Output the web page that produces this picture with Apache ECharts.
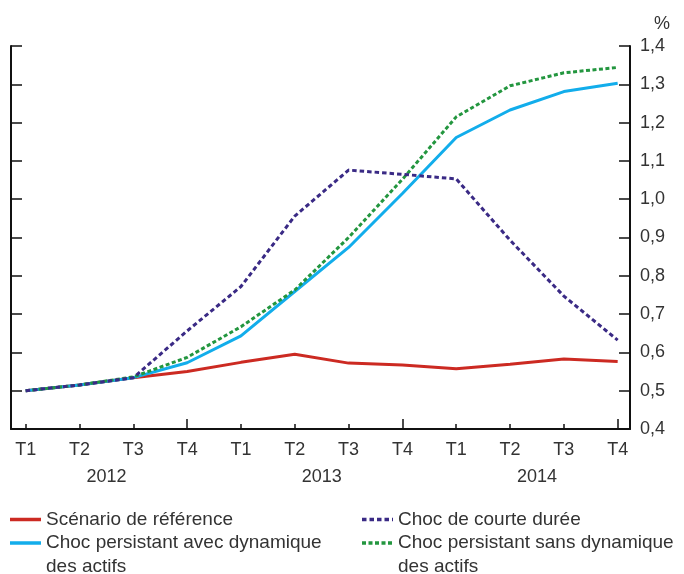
<!DOCTYPE html>
<html>
<head>
<meta charset="utf-8">
<script src="https://cdn.jsdelivr.net/npm/echarts@6/dist/echarts.min.js"></script>
<style>
  html, body { margin: 0; padding: 0; background: #fff; }
  #chart { width: 684px; height: 574px; }
</style>
</head>
<body>
<div id="chart"></div>
<script>
// Quarterly labels and years
const quarters = ['T1', 'T2', 'T3', 'T4', 'T1', 'T2', 'T3', 'T4', 'T1', 'T2', 'T3', 'T4'];
const years = ['2012', '2013', '2014'];
const yearPositions = [1.5, 5.5, 9.5];
const yearEndTicks = [3, 7, 11];

// Series values (%)
const reference = [0.500, 0.515, 0.534, 0.550, 0.574, 0.595, 0.572, 0.567, 0.557, 0.569, 0.583, 0.576];
const shortShock = [0.500, 0.515, 0.534, 0.656, 0.772, 0.956, 1.076, 1.065, 1.053, 0.893, 0.747, 0.632];
const persistentWith = [0.500, 0.515, 0.534, 0.573, 0.643, 0.759, 0.874, 1.015, 1.161, 1.233, 1.281, 1.303];
const persistentWithout = [0.500, 0.515, 0.536, 0.587, 0.667, 0.763, 0.900, 1.052, 1.215, 1.296, 1.330, 1.344];

const FONT = 'Liberation Sans, Arial, sans-serif';
const TEXT = '#333';
const AXIS_FONT = 18;
const LEGEND_FONT = 19;

// Series definitions: name, data, colour, dash pattern, legend slot (column, row)
const seriesDefs = [
  { name: 'Scénario de référence', data: reference, color: '#cc2a22', dash: 'solid', col: 0, row: 0 },
  { name: 'Choc persistant avec dynamique\ndes actifs', data: persistentWith, color: '#12adeb', dash: 'solid', col: 0, row: 1 },
  { name: 'Choc persistant sans dynamique\ndes actifs', data: persistentWithout, color: '#23963f', dash: [4, 2.5], col: 1, row: 1 },
  { name: 'Choc de courte durée', data: shortShock, color: '#3a2a85', dash: [4.5, 3], col: 1, row: 0 }
];

const idx = quarters.map((_, i) => i);
const pairs = arr => arr.map((v, i) => [i, v]);
const xMin = -0.273, xMax = 11.229;

const chart = echarts.init(document.getElementById('chart'), null, { renderer: 'canvas' });

const axisLine = { show: true, onZero: false, lineStyle: { color: '#111', width: 2 } };
const tickStyle = { color: '#111', width: 1.5 };

// Legend: two columns of line keys with text
const legendCols = [10, 362];
const legendRows = [519.5, 543];
const legendGraphics = [];
seriesDefs.forEach(s => {
  const x = legendCols[s.col], y = legendRows[s.row];
  legendGraphics.push({
    type: 'line', silent: true,
    shape: { x1: x, y1: y, x2: x + 31, y2: y },
    style: { stroke: s.color, lineWidth: 3.5, lineDash: s.dash === 'solid' ? null : s.dash }
  });
  legendGraphics.push({
    type: 'text', silent: true, x: x + 36, y: y - 12,
    style: { text: s.name, fontFamily: FONT, fontSize: LEGEND_FONT, fill: TEXT, lineHeight: 24, verticalAlign: 'top' }
  });
});

chart.setOption({
  animation: false,
  title: {
    text: '%', left: 649, top: 10,
    textStyle: { fontFamily: FONT, fontSize: AXIS_FONT, fontWeight: 'normal', color: TEXT }
  },
  grid: { left: 11, right: 54, top: 46, bottom: 145, containLabel: false },
  xAxis: [
    {
      type: 'value', min: xMin, max: xMax, position: 'bottom',
      axisLine: axisLine,
      splitLine: { show: false },
      axisTick: { show: true, inside: true, length: 5, customValues: idx, lineStyle: tickStyle },
      axisLabel: {
        customValues: idx, margin: 12,
        formatter: v => quarters[Math.round(v)],
        fontFamily: FONT, fontSize: AXIS_FONT, color: TEXT
      }
    },
    {
      type: 'value', min: xMin, max: xMax, position: 'bottom',
      axisLine: { show: false, onZero: false },
      splitLine: { show: false },
      axisTick: { show: true, inside: true, length: 10, customValues: yearEndTicks, lineStyle: tickStyle },
      axisLabel: {
        customValues: yearPositions, margin: 39,
        formatter: v => years[yearPositions.indexOf(v)],
        fontFamily: FONT, fontSize: AXIS_FONT, color: TEXT
      }
    }
  ],
  yAxis: [
    {
      type: 'value', min: 0.4, max: 1.4, interval: 0.1, position: 'right',
      axisLine: axisLine,
      splitLine: { show: false },
      axisTick: { show: true, inside: true, length: 11, lineStyle: tickStyle },
      axisLabel: {
        margin: 10,
        formatter: v => v.toFixed(1).replace('.', ','),
        fontFamily: FONT, fontSize: AXIS_FONT, color: TEXT
      }
    },
    {
      type: 'value', min: 0.4, max: 1.4, interval: 0.1, position: 'left',
      axisLine: axisLine,
      splitLine: { show: false },
      axisTick: { show: true, inside: true, length: 11, lineStyle: tickStyle },
      axisLabel: { show: false }
    }
  ],
  graphic: legendGraphics,
  series: seriesDefs.map(s => ({
    name: s.name, type: 'line', data: pairs(s.data),
    showSymbol: false, symbol: 'none', color: s.color,
    lineStyle: { width: 3, color: s.color, type: s.dash }
  }))
});
</script>
</body>
</html>
